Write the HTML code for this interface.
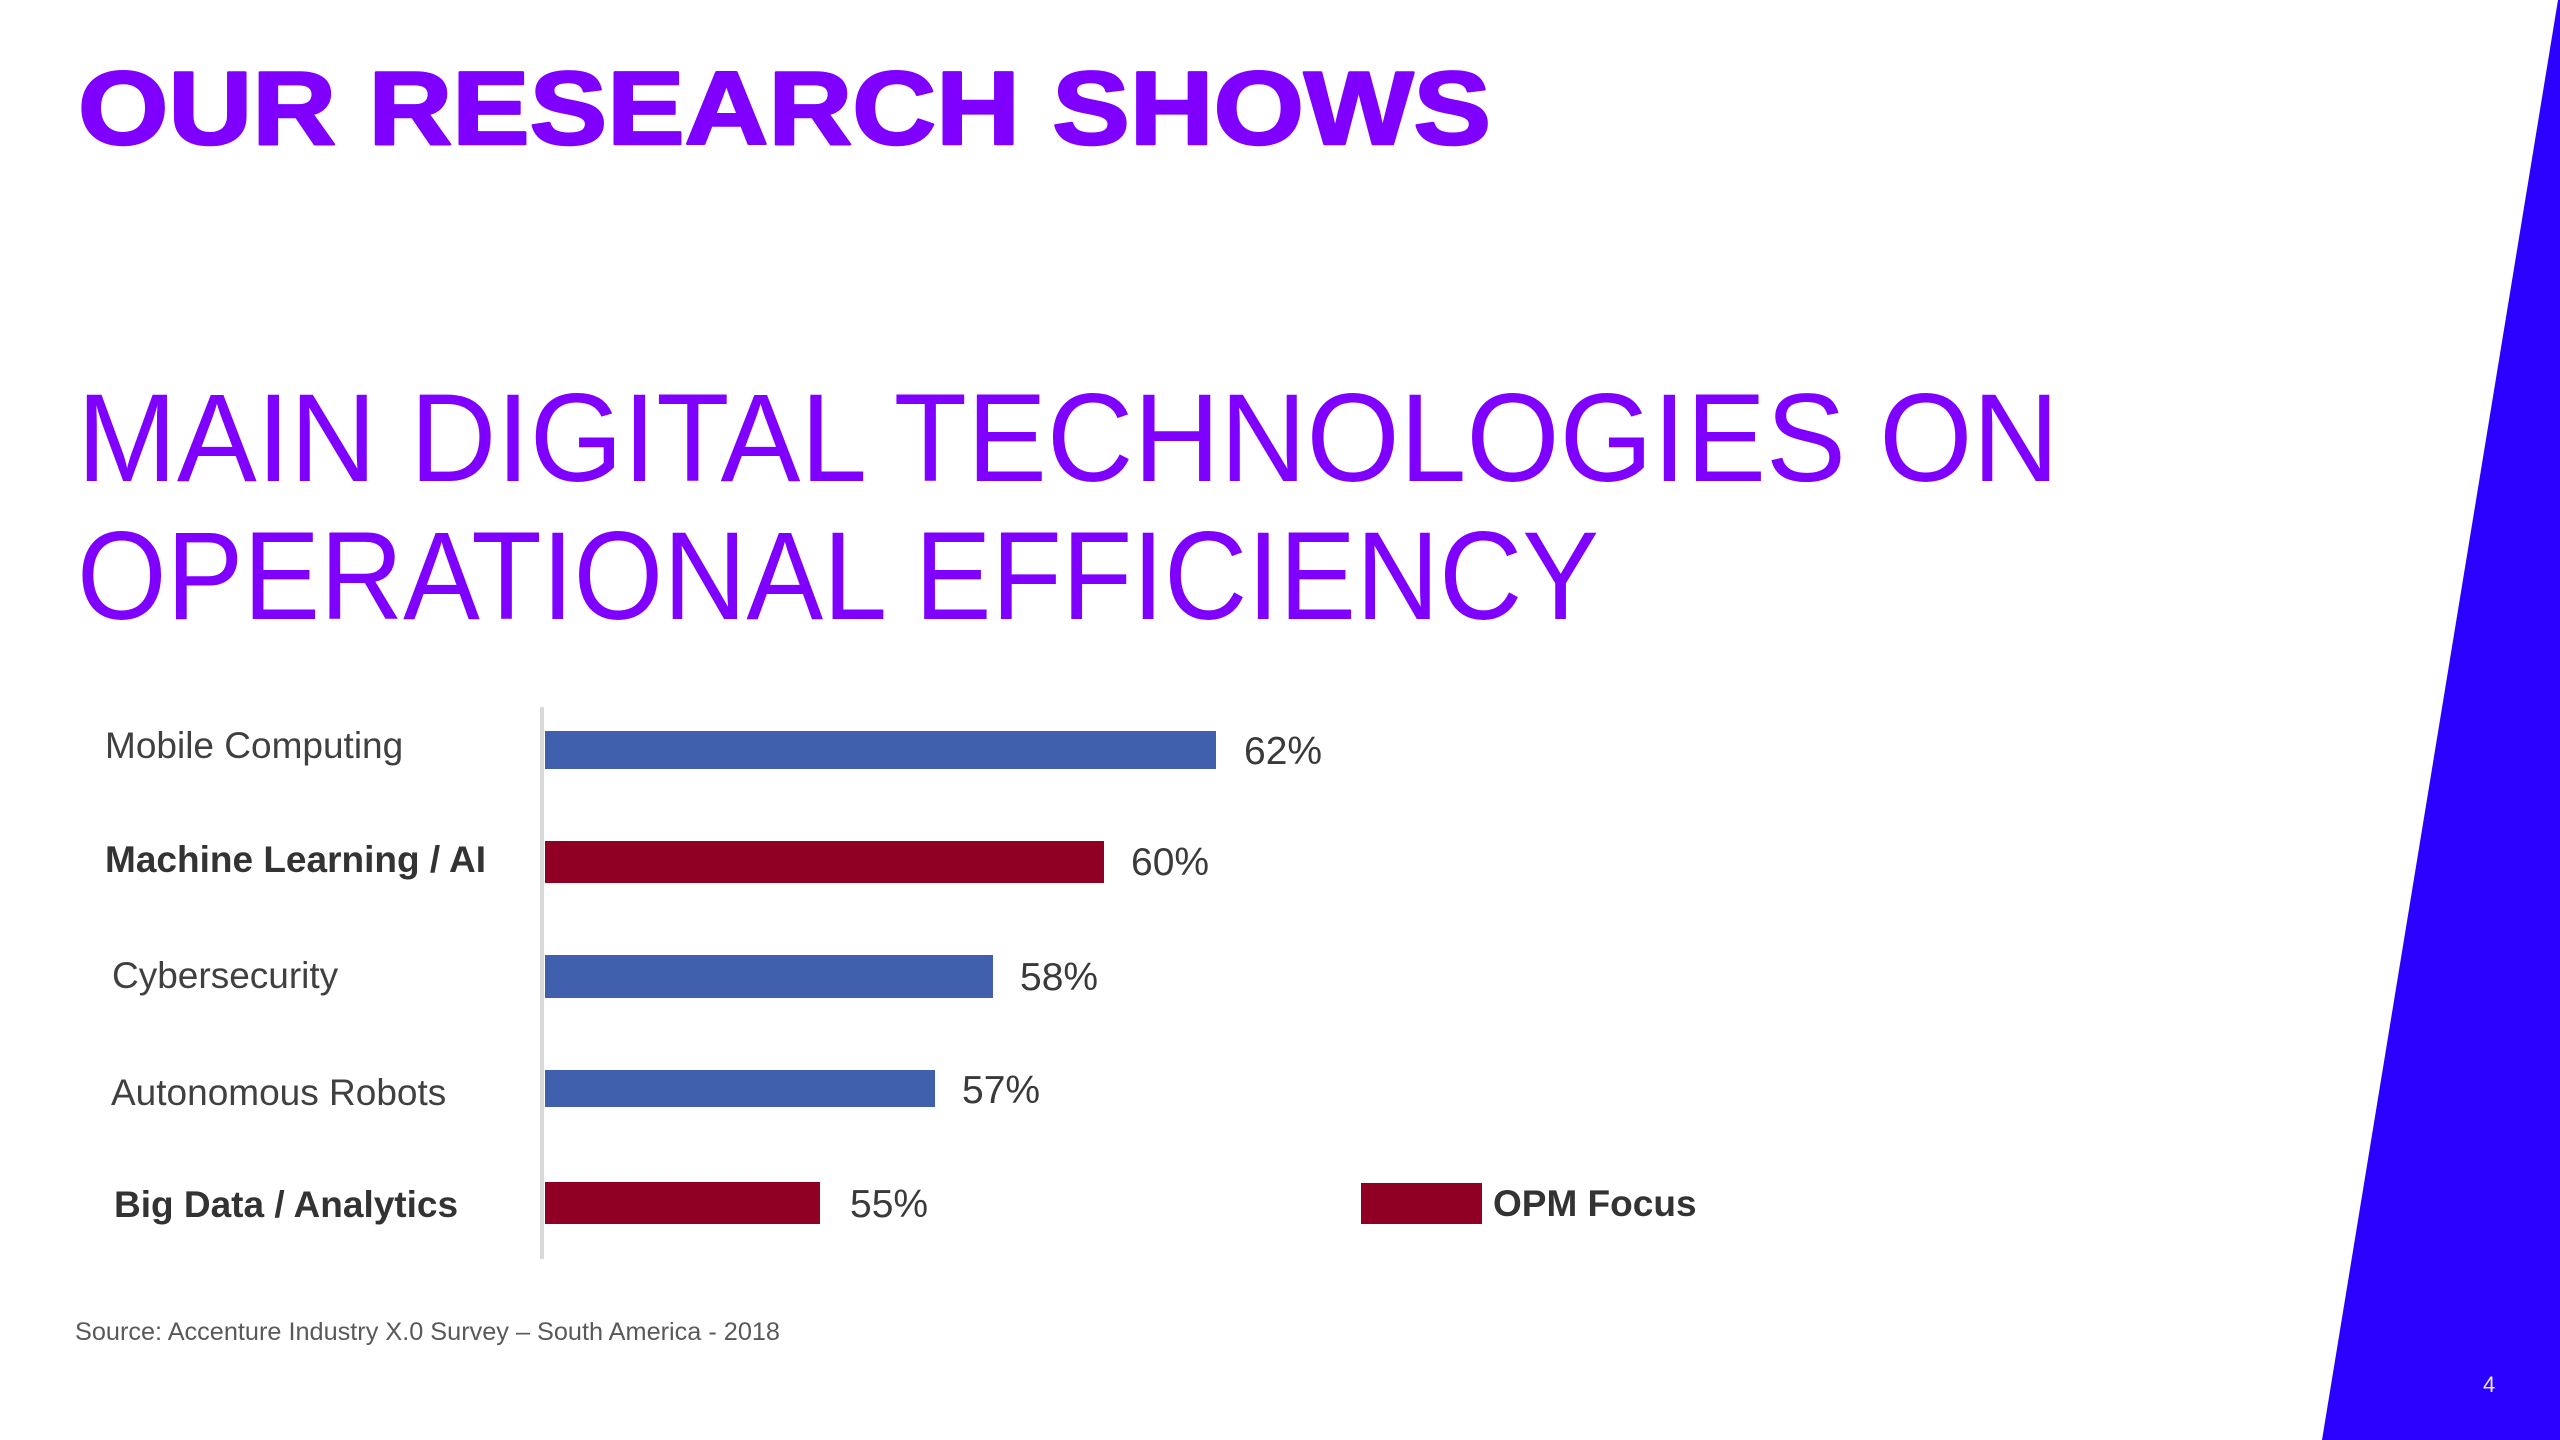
<!DOCTYPE html>
<html>
<head>
<meta charset="utf-8">
<style>
  html, body { margin: 0; padding: 0; background: #ffffff; }
  body { width: 2560px; height: 1440px; overflow: hidden; }
  svg { display: block; }
</style>
</head>
<body>
<svg width="2560" height="1440" viewBox="0 0 2560 1440" xmlns="http://www.w3.org/2000/svg">
  <rect x="0" y="0" width="2560" height="1440" fill="#ffffff"/>

  <!-- right blue wedge -->
  <polygon points="2558,0 2560,0 2560,1440 2322,1440" fill="#2B00FF"/>
  <text x="2483" y="1392" font-family="Liberation Sans, sans-serif" font-size="22" fill="#e6e6ff">4</text>

  <!-- header -->
  <text x="78" y="144" font-family="Liberation Sans, sans-serif" font-weight="bold" font-size="104"
        fill="#7F00FF" stroke="#7F00FF" stroke-width="2.5" stroke-linejoin="round"
        textLength="1413" lengthAdjust="spacingAndGlyphs">OUR RESEARCH SHOWS</text>

  <!-- main title -->
  <text x="77" y="481" font-family="Liberation Sans, sans-serif" font-size="125" fill="#7F00FF"
        textLength="1982" lengthAdjust="spacingAndGlyphs">MAIN DIGITAL TECHNOLOGIES ON</text>
  <text x="77" y="619" font-family="Liberation Sans, sans-serif" font-size="125" fill="#7F00FF"
        textLength="1522" lengthAdjust="spacingAndGlyphs">OPERATIONAL EFFICIENCY</text>

  <!-- axis line -->
  <line x1="542" y1="707" x2="542" y2="1259" stroke="#d9d9d9" stroke-width="4"/>

  <!-- bars -->
  <rect x="545" y="731" width="671" height="38" fill="#4060AE"/>
  <rect x="545" y="841" width="559" height="42" fill="#900025"/>
  <rect x="545" y="955" width="448" height="43" fill="#4060AE"/>
  <rect x="545" y="1070" width="390" height="37" fill="#4060AE"/>
  <rect x="545" y="1182" width="275" height="42" fill="#900025"/>

  <!-- value labels -->
  <g font-family="Liberation Sans, sans-serif" font-size="39" fill="#3a3a3a">
    <text x="1244" y="764">62%</text>
    <text x="1131" y="875">60%</text>
    <text x="1020" y="990">58%</text>
    <text x="962" y="1103">57%</text>
    <text x="850" y="1217">55%</text>
  </g>

  <!-- category labels -->
  <g font-family="Liberation Sans, sans-serif" font-size="37" fill="#404040">
    <text x="105" y="758">Mobile Computing</text>
    <text x="105" y="872" font-weight="bold" fill="#333333">Machine Learning / AI</text>
    <text x="112" y="988">Cybersecurity</text>
    <text x="111" y="1105">Autonomous Robots</text>
    <text x="114" y="1217" font-weight="bold" fill="#333333">Big Data / Analytics</text>
  </g>

  <!-- legend -->
  <rect x="1361" y="1183" width="121" height="41" fill="#900025"/>
  <text x="1493" y="1216" font-family="Liberation Sans, sans-serif" font-weight="bold" font-size="37" fill="#333333">OPM Focus</text>

  <!-- source -->
  <text x="75" y="1340" font-family="Liberation Sans, sans-serif" font-size="25" fill="#595959"
        textLength="705" lengthAdjust="spacingAndGlyphs">Source: Accenture Industry X.0 Survey – South America - 2018</text>
</svg>
</body>
</html>
